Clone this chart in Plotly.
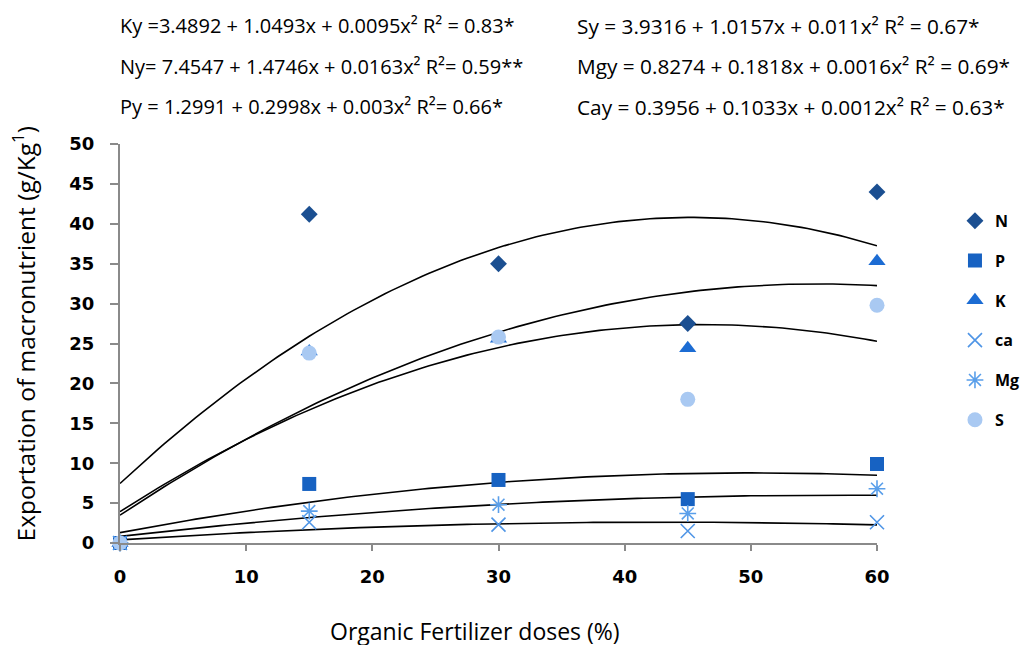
import numpy as np
import plotly.graph_objects as go

# ---- data ----
doses = [0, 15, 30, 45, 60]
N_vals = [0, 41.2, 35.0, 27.5, 44.0]
P_vals = [0, 7.4, 7.9, 5.5, 9.9]
K_vals = [0, 24.0, 25.6, 24.4, 35.3]
Ca_vals = [0, 2.6, 2.3, 1.5, 2.6]
Mg_vals = [0, 4.0, 4.8, 3.7, 6.8]
S_vals = [0, 23.8, 25.8, 18.0, 29.8]

# quadratic trendline coefficients (a, b, c) for y = a + b x + c x^2
N_coef = [7.4547, 1.4746, -0.0163]
K_coef = [3.4892, 1.0493, -0.0095]
S_coef = [3.9316, 1.0157, -0.011]
P_coef = [1.2991, 0.2998, -0.003]
Mg_coef = [0.8274, 0.1818, -0.0016]
Ca_coef = [0.3956, 0.1033, -0.0012]

eq_left = [
    "Ky =3.4892 + 1.0493x + 0.0095x² R² = 0.83*",
    "Ny= 7.4547 + 1.4746x + 0.0163x² R²= 0.59**",
    "Py = 1.2991 + 0.2998x + 0.003x² R²= 0.66*",
]
eq_right = [
    "Sy = 3.9316 + 1.0157x + 0.011x² R² = 0.67*",
    "Mgy = 0.8274 + 0.1818x + 0.0016x² R² = 0.69*",
    "Cay = 0.3956 + 0.1033x + 0.0012x² R² = 0.63*",
]

x_title = "Organic Fertilizer doses (%)"
y_title = "Exportation of macronutrient (g/Kg<sup>1</sup>)"

fig = go.Figure()

# trendlines
xs = np.linspace(0, 60, 121)
for coef in [N_coef, K_coef, S_coef, P_coef, Mg_coef, Ca_coef]:
    ys = coef[0] + coef[1] * xs + coef[2] * xs ** 2
    fig.add_trace(go.Scatter(x=xs, y=ys, mode="lines",
                             line=dict(color="black", width=1.6),
                             showlegend=False, hoverinfo="skip", cliponaxis=False))

series = [
    ("N", N_vals, dict(symbol="diamond", size=13, color="#1B4F91")),
    ("P", P_vals, dict(symbol="square", size=14, color="#1762C2")),
    ("K", K_vals, dict(symbol="triangle-up", size=15, color="#1C6CD3")),
    ("ca", Ca_vals, dict(symbol="x-thin-open", size=14, color="#4F95E6",
                          line=dict(color="#4F95E6", width=1.6))),
    ("Mg", Mg_vals, dict(symbol="asterisk-open", size=14, color="#5A9FEA",
                          line=dict(color="#5A9FEA", width=1.6))),
    ("S", S_vals, dict(symbol="circle", size=15, color="#A9C9F2")),
]
for i, (name, vals, mk) in enumerate(series):
    fig.add_trace(go.Scatter(x=doses, y=vals, mode="markers", name=name,
                             marker=mk, legendgroup=f"g{i}", cliponaxis=False))

EQ_FONT_L = dict(family="Open Sans", size=20, color="black")
EQ_FONT_R = dict(family="Open Sans", size=20.8, color="black")
annotations = []
ys_eq = [1.296, 1.195, 1.093]
for t, yy in zip(eq_left, ys_eq):
    annotations.append(dict(text=t, x=-0.003, y=yy, xref="paper", yref="paper",
                            xanchor="left", yanchor="middle", showarrow=False, font=EQ_FONT_L))
for t, yy in zip(eq_right, ys_eq):
    annotations.append(dict(text=t, x=0.601, y=yy, xref="paper", yref="paper",
                            xanchor="left", yanchor="middle", showarrow=False, font=EQ_FONT_R))
annotations.append(dict(text=x_title, x=0.469, y=-0.2206, xref="paper", yref="paper",
                        xanchor="center", yanchor="middle", showarrow=False,
                        font=dict(family="Open Sans", size=23, color="black")))
annotations.append(dict(text=y_title, x=-0.127, y=0.525, xref="paper", yref="paper",
                        xanchor="center", yanchor="middle", showarrow=False, textangle=-90,
                        font=dict(family="Open Sans", size=24.5, color="black")))

TICK_FONT = dict(family="DejaVu Sans", size=18, color="black", weight="bold")
fig.update_layout(
    width=1028, height=645,
    margin=dict(l=112, r=159, t=136, b=110, autoexpand=False),
    plot_bgcolor="white", paper_bgcolor="white",
    annotations=annotations,
    legend=dict(x=1.103, y=0.85, xanchor="left", yanchor="top",
                font=dict(family="Open Sans", size=16, color="black", weight="bold"),
                tracegroupgap=16, itemwidth=30, bgcolor="rgba(0,0,0,0)"),
    xaxis=dict(range=[0, 60], tickvals=[0, 10, 20, 30, 40, 50, 60],
               showgrid=False, zeroline=False, showline=True, linecolor="#8a8a8a",
               linewidth=2, ticks="outside", ticklen=6, tickcolor="#8a8a8a", tickwidth=2,
               ticklabelstandoff=10, tickfont=TICK_FONT),
    yaxis=dict(range=[0, 50], tickvals=list(range(0, 51, 5)),
               showgrid=False, zeroline=False, showline=True, linecolor="#8a8a8a",
               linewidth=2, ticks="outside", ticklen=8, tickcolor="#8a8a8a", tickwidth=2,
               ticklabelstandoff=12, tickfont=TICK_FONT),
)

fig.write_html("out.html")
